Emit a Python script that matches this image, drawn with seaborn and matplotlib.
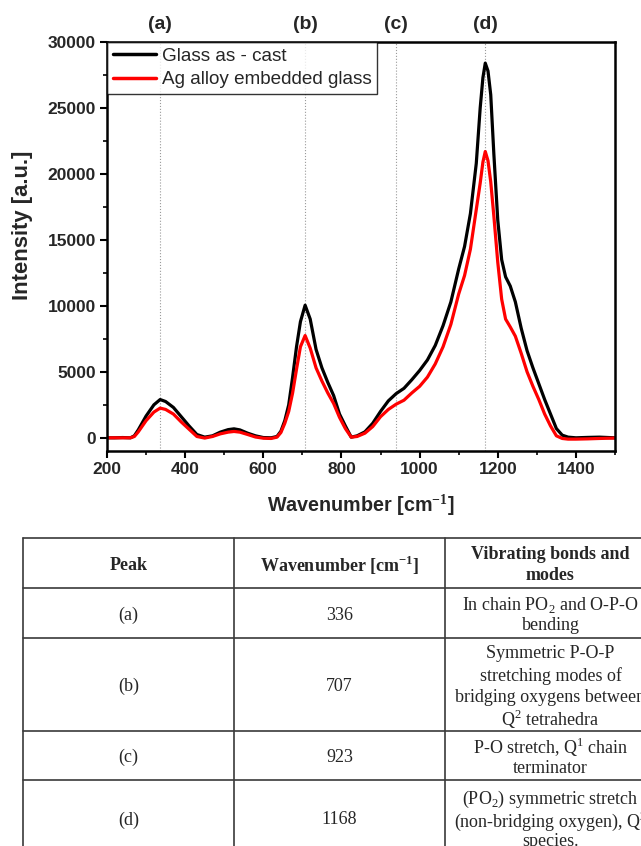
import numpy as np
import pandas as pd
import matplotlib
matplotlib.use("Agg")
import matplotlib.pyplot as plt
import seaborn as sns
from matplotlib.ticker import MultipleLocator

# ---------------- data ----------------
wavenumber = [200, 220, 240, 260, 270, 280, 300, 320, 336, 350, 370, 390, 410, 430, 450,
              470, 490, 510, 525, 540, 560, 580, 600, 620, 635, 645, 655, 665, 675, 685,
              695, 707, 720, 735, 750, 765, 780, 795, 810, 825, 840, 860, 880, 900, 920,
              940, 960, 980, 1000, 1020, 1040, 1060, 1080, 1100, 1115, 1130, 1145, 1155,
              1162, 1168, 1175, 1182, 1190, 1200, 1210, 1220, 1232, 1245, 1260, 1275, 1290,
              1305, 1320, 1335, 1350, 1365, 1380, 1400, 1430, 1460, 1500]

glass_as_cast = [0, 0, 20, 0, 150, 600, 1650, 2500, 2900, 2750, 2300, 1600, 900, 250, 50,
                 150, 430, 620, 680, 600, 350, 150, 20, 0, 100, 500, 1300, 2500, 4600, 6900,
                 8800, 10050, 9000, 6700, 5300, 4200, 3200, 1800, 900, 50, 150, 450, 1100, 2000, 2800,
                 3350, 3750, 4400, 5100, 5900, 7000, 8500, 10300, 12800, 14500, 17000, 20800, 25000,
                 27300, 28400, 27800, 26000, 21500, 16500, 13500, 12200, 11500, 10300, 8300, 6600, 5300,
                 4100, 2900, 1800, 700, 200, 50, 0, 30, 50, 0]

ag_embedded = [0, 0, 0, 0, 100, 450, 1300, 1950, 2250, 2150, 1800, 1200, 650, 100, -20,
               100, 300, 430, 480, 430, 250, 60, -30, -50, 50, 400, 1100, 2000, 3400, 5200,
               6900, 7750, 6800, 5300, 4300, 3400, 2600, 1550, 700, 50, 100, 350, 850, 1600, 2150,
               2550, 2850, 3400, 3900, 4600, 5600, 6900, 8600, 10900, 12300, 14300, 17300, 19300,
               20900, 21700, 21000, 19400, 16800, 13300, 10500, 9000, 8400, 7700, 6400, 5000, 3900,
               2900, 1800, 900, 150, -50, -100, -100, -80, -50, -20]

series_names = ["Glass as - cast", "Ag alloy embedded glass"]
series_colors = ["#000000", "#ff0000"]

peak_labels = ["(a)", "(b)", "(c)", "(d)"]
peak_lines = [336, 707, 940, 1168]

table_header = [["Peak"], ["Wavenumber [cm$^{\\mathbf{-1}}$]"], ["Vibrating bonds and", "modes"]]
table_peaks = ["(a)", "(b)", "(c)", "(d)"]
table_wavenumbers = ["336", "707", "923", "1168"]
table_modes = [["In chain PO$_2$ and O-P-O", "bending"],
               ["Symmetric P-O-P", "stretching modes of", "bridging oxygens between",
                "Q$^2$ tetrahedra"],
               ["P-O stretch, Q$^1$ chain", "terminator"],
               ["(PO$_2$) symmetric stretch", "(non-bridging oxygen), Q$^2$", "species."]]

# ---------------- style ----------------
sns.set_theme(style="ticks")
plt.rcParams["font.family"] = ["Liberation Sans", "DejaVu Sans"]
plt.rcParams["mathtext.fontset"] = "custom"
plt.rcParams["mathtext.rm"] = "Liberation Sans"
plt.rcParams["mathtext.bf"] = "Liberation Sans:bold"

df = pd.DataFrame({
    "Wavenumber": wavenumber * 2,
    "Intensity": glass_as_cast + ag_embedded,
    "Sample": [series_names[0]] * len(wavenumber) + [series_names[1]] * len(wavenumber),
})

fig = plt.figure(figsize=(6.41, 8.46), dpi=100)
fig.patch.set_facecolor("white")
ax = fig.add_axes([107 / 641, 1 - 451 / 846, (615 - 107) / 641, (451 - 42) / 846])

for x in peak_lines:
    ax.axvline(x, color="#9a9a9a", lw=0.8, ls=":", zorder=0)

sns.lineplot(data=df, x="Wavenumber", y="Intensity", hue="Sample",
             palette=dict(zip(series_names, series_colors)), lw=2.3, ax=ax,
             sort=False, legend=False)

ax.set_xlim(200, 1500)
ax.set_ylim(-1000, 30000)
ax.xaxis.set_major_locator(MultipleLocator(200))
ax.xaxis.set_minor_locator(MultipleLocator(100))
ax.yaxis.set_major_locator(MultipleLocator(5000))
ax.yaxis.set_minor_locator(MultipleLocator(2500))
ax.tick_params(axis="both", which="major", direction="out", length=5, width=1.5,
               labelsize=12.5, pad=3, top=False, right=False, color="black")
ax.tick_params(axis="both", which="minor", direction="out", length=3, width=1.2,
               top=False, right=False, color="black")
for lab in ax.get_xticklabels() + ax.get_yticklabels():
    lab.set_fontweight("bold")
for sp in ax.spines.values():
    sp.set_visible(True)
    sp.set_linewidth(1.8)
    sp.set_color("black")

ax.set_xlabel("Wavenumber [cm$^{\\mathbf{-1}}$]", fontsize=14.2, fontweight="bold")
ax.set_ylabel("Intensity [a.u.]", fontsize=15.8, fontweight="bold")
ax.xaxis.set_label_coords(0.5, (451 - 505) / 409, transform=ax.transAxes)
ax.yaxis.set_label_coords((22 - 107) / 508, 1 - (225 - 42) / 409, transform=ax.transAxes)
ax.xaxis.label.set_va("center")
ax.yaxis.label.set_va("center")

for x, lab in zip(peak_lines, peak_labels):
    ax.text(x, 1.042, lab, transform=ax.get_xaxis_transform(), ha="center", va="center",
            fontsize=14, fontweight="bold")

handles = [plt.Line2D([], [], color=c, lw=2.5) for c in series_colors]
leg = ax.legend(handles, series_names, loc="upper left", bbox_to_anchor=(0, 1),
                fontsize=13.6, frameon=True, fancybox=False, borderaxespad=0,
                handlelength=2.3, handletextpad=0.3, borderpad=0.3, labelspacing=0.32)
leg.get_frame().set_edgecolor("black")
leg.get_frame().set_linewidth(1.0)

# ---------------- table ----------------
tax = fig.add_axes([0, 0, 1, 1])
tax.set_xlim(0, 641)
tax.set_ylim(846, 0)
tax.axis("off")
tax.patch.set_alpha(0)

col_x = [23, 234, 445, 656]
row_y = [538, 588, 638, 731, 780, 856]
lc = "#3a3a3a"
for y in row_y:
    tax.plot([col_x[0], col_x[-1]], [y, y], color=lc, lw=1.2, clip_on=False)
for x in col_x:
    tax.plot([x, x], [row_y[0], row_y[-1]], color=lc, lw=1.2, clip_on=False)

serif = ["Liberation Serif", "DejaVu Serif"]
plt.rcParams["mathtext.rm"] = "Liberation Serif"
plt.rcParams["mathtext.bf"] = "Liberation Serif:bold"
line_gap = 21.7

def cell_text(ci, ri, lines, bold=False):
    cx = (col_x[ci] + col_x[ci + 1]) / 2
    cy = (row_y[ri] + row_y[ri + 1]) / 2
    n = len(lines)
    for i, s in enumerate(lines):
        y = cy + (i - (n - 1) / 2) * line_gap
        tax.text(cx, y, s, ha="center", va="center_baseline", fontsize=13, family=serif,
                 fontweight="bold" if bold else "normal", clip_on=False)

for ci, s in enumerate(table_header):
    cell_text(ci, 0, s, bold=True)
for ri in range(4):
    cell_text(0, ri + 1, [table_peaks[ri]])
    cell_text(1, ri + 1, [table_wavenumbers[ri]])
    cell_text(2, ri + 1, table_modes[ri])

fig.savefig("out.png", dpi=100, facecolor="white")
